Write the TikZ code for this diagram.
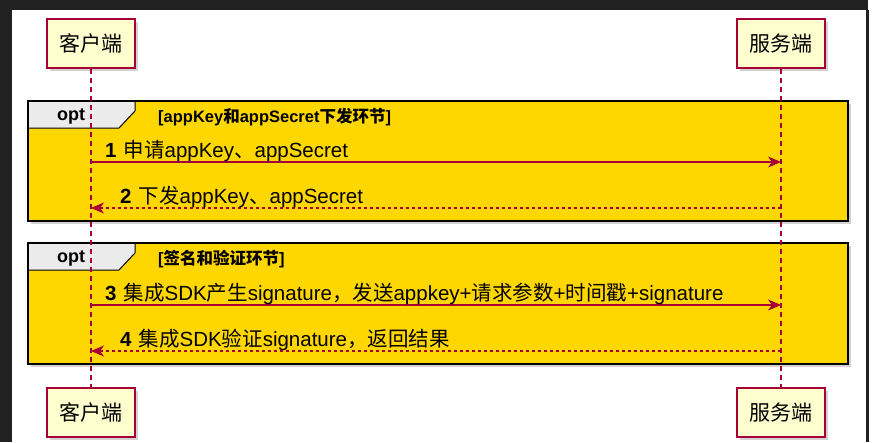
\documentclass[tikz,border=0pt]{standalone}
\usepackage{fontspec}
\setmainfont{Liberation Sans}
\newfontfamily\cjk{Noto Sans CJK SC}
\usetikzlibrary{arrows.meta,shadows}
\definecolor{pred}{HTML}{A80036}
\definecolor{pfill}{HTML}{FEFECE}
\definecolor{gold}{HTML}{FFD700}
\tikzset{
 part/.style={draw=pred,line width=1.3pt,fill=pfill,minimum width=88pt,minimum height=49pt,font=\cjk\fontsize{21}{23}\selectfont,drop shadow={opacity=0.35,shadow xshift=3pt,shadow yshift=-3pt}},
 life/.style={pred,dash pattern=on 5pt off 4pt,line width=1.1pt},
 frame/.style={draw=black,line width=2pt,fill=gold,drop shadow={opacity=0.35,shadow xshift=3pt,shadow yshift=-3pt}},
 msg/.style={pred,line width=1.2pt,-{Stealth[length=13pt,width=11pt,inset=4pt]}},
 rmsg/.style={pred,line width=1.2pt,dash pattern=on 3pt off 3pt,-{Stealth[length=13pt,width=11pt,inset=4pt]}},
 mtxt/.style={font=\fontsize{20.5}{22}\selectfont,anchor=base west,inner sep=0},
 ctxt/.style={font=\bfseries\fontsize{16.5}{18}\selectfont,anchor=base west,inner sep=0},
}
\newcommand{\zh}[1]{{\cjk #1}}
\begin{document}
\begin{tikzpicture}[x=1pt,y=-1pt]
\useasboundingbox (0,0) rectangle (890,442);
\fill[white] (0,0) rectangle (890,442);
\fill[black!87] (0,0) rectangle (868,10);
\fill[black!87] (0,0) rectangle (12,442);
\fill[black!87] (866,10) rectangle (869,442);
% participants
\node[part] (c1) at (91,43.5) {客户端};
\node[part] (s1) at (781,43.5) {服务端};
\node[part] (c2) at (91,412.5) {客户端};
\node[part] (s2) at (781,412.5) {服务端};
% frames
\path[frame] (28,101) rectangle (848,221);
\path[frame] (28,243) rectangle (848,364);
\foreach \y in {101,243}{
 \fill[black!8] (29,\y+1) -- (135,\y+1) -- (135,\y+10) -- (119,\y+27) -- (29,\y+27) -- cycle;
 \draw[black,line width=1pt] (135,\y+1) -- (135,\y+10) -- (119,\y+27) -- (29,\y+27);
}
\node[font=\bfseries\fontsize{18}{20}\selectfont] (o1) at (71,116) {opt};
\node[font=\bfseries\fontsize{18}{20}\selectfont] (o2) at (71,258) {opt};
\node[ctxt] (g1) at (158,122) {[appKey\zh{和}appSecret\zh{下发环节}]};
\node[ctxt] (g2) at (158,264) {[\zh{签名和验证环节}]};
% lifelines
\draw[life] (c1.south) -- (c2.north);
\draw[life] (s1.south) -- (s2.north);
% messages
\coordinate (a1) at (91,162); \coordinate (b1) at (781,162);
\coordinate (a2) at (91,208); \coordinate (b2) at (781,208);
\coordinate (a3) at (91,305); \coordinate (b3) at (781,305);
\coordinate (a4) at (91,351); \coordinate (b4) at (781,351);
\draw[msg] (a1) -- (b1);
\draw[rmsg] (b2) -- (a2);
\draw[msg] (a3) -- (b3);
\draw[rmsg] (b4) -- (a4);
\node[mtxt] (t1) at (105,157) {\textbf{1}\hspace{7pt}\zh{申请}appKey\zh{、}appSecret};
\node[mtxt] (t2) at (120,203) {\textbf{2}\hspace{7pt}\zh{下发}appKey\zh{、}appSecret};
\node[mtxt] (t3) at (105,300) {\textbf{3}\hspace{7pt}\zh{集成}SDK\zh{产生}signature\zh{，发送}appkey+\zh{请求参数}+\zh{时间戳}+signature};
\node[mtxt] (t4) at (120,346) {\textbf{4}\hspace{7pt}\zh{集成}SDK\zh{验证}signature\zh{，返回结果}};
\end{tikzpicture}
\end{document}
